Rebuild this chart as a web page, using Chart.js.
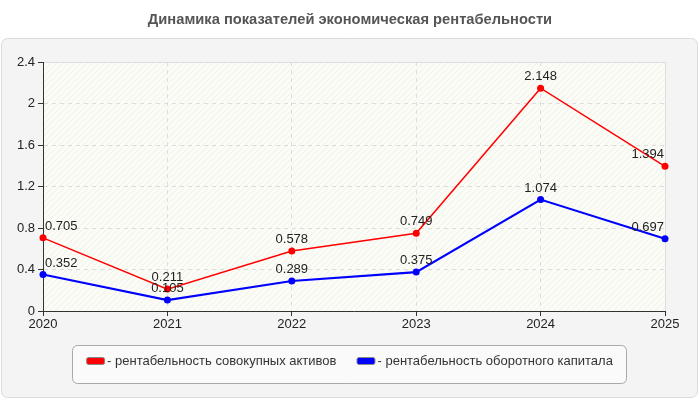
<!DOCTYPE html>
<html>
<head>
<meta charset="utf-8">
<script src="https://cdn.jsdelivr.net/npm/chart.js@4.4.1/dist/chart.umd.min.js"></script>
<style>
  html, body { margin: 0; padding: 0; background: #fff; }
  #wrap { width: 700px; height: 400px; }
</style>
</head>
<body>
<div id="wrap"><canvas id="chart" width="700" height="400"></canvas></div>
<script>
// Данные графика
const years       = ['2020', '2021', '2022', '2023', '2024', '2025'];
const assetsRoa   = [0.705, 0.211, 0.578, 0.749, 2.148, 1.394];
const workingCap  = [0.352, 0.105, 0.289, 0.375, 1.074, 0.697];
const seriesNames = ['- рентабельность совокупных активов', '- рентабельность оборотного капитала'];
const chartTitle  = 'Динамика показателей экономическая рентабельности';

const FONT = '"Liberation Sans", Arial, sans-serif';

// Штриховка фона области построения
function makeHatch(ctx) {
  const c = document.createElement('canvas');
  c.width = 6; c.height = 6;
  const p = c.getContext('2d');
  p.fillStyle = '#fcfcf6';
  p.fillRect(0, 0, 6, 6);
  p.strokeStyle = 'rgba(0,0,0,0.045)';
  p.lineWidth = 1;
  p.beginPath();
  p.moveTo(0, 6); p.lineTo(6, 0);
  p.moveTo(-3, 3); p.lineTo(3, -3);
  p.moveTo(3, 9); p.lineTo(9, 3);
  p.stroke();
  return ctx.createPattern(c, 'repeat');
}

function roundRect(ctx, x, y, w, h, r) {
  ctx.beginPath();
  ctx.moveTo(x + r, y);
  ctx.arcTo(x + w, y, x + w, y + h, r);
  ctx.arcTo(x + w, y + h, x, y + h, r);
  ctx.arcTo(x, y + h, x, y, r);
  ctx.arcTo(x, y, x + w, y, r);
  ctx.closePath();
}

// Фон страницы, панель и заголовок
const backdrop = {
  id: 'backdrop',
  beforeDraw(chart) {
    const { ctx, chartArea: a } = chart;
    ctx.save();
    ctx.fillStyle = '#fff';
    ctx.fillRect(0, 0, chart.width, chart.height);
    roundRect(ctx, 1.5, 38.5, 696, 359, 6);
    ctx.fillStyle = '#f4f4f4';
    ctx.fill();
    ctx.strokeStyle = '#dcdcdc';
    ctx.lineWidth = 1;
    ctx.stroke();

    ctx.fillStyle = '#555';
    ctx.font = 'bold 14.7px ' + FONT;
    ctx.textAlign = 'center';
    ctx.textBaseline = 'middle';
    ctx.fillText(chartTitle, 350, 20);

    ctx.fillStyle = makeHatch(ctx);
    ctx.fillRect(a.left, a.top, a.right - a.left, a.bottom - a.top);
    ctx.strokeStyle = '#dedede';
    ctx.strokeRect(a.left + 0.5, a.top + 0.5, a.right - a.left, a.bottom - a.top);
    ctx.restore();
  },
};

// Подписи значений над точками (прижаты к краям области)
const valueLabels = {
  id: 'valueLabels',
  afterDatasetsDraw(chart) {
    const { ctx, chartArea: a } = chart;
    ctx.save();
    ctx.font = '13px ' + FONT;
    ctx.fillStyle = '#222';
    ctx.textAlign = 'center';
    ctx.textBaseline = 'bottom';
    chart.data.datasets.forEach((ds, i) => {
      chart.getDatasetMeta(i).data.forEach((pt, j) => {
        const txt = String(ds.data[j]);
        const w = ctx.measureText(txt).width;
        let x = pt.x;
        x = Math.max(a.left + 2 + w / 2, Math.min(a.right - 1 - w / 2, x));
        ctx.fillText(txt, x, pt.y - 5);
      });
    });
    ctx.restore();
  },
};

// Легенда в рамке снизу
const boxLegend = {
  id: 'boxLegend',
  afterDraw(chart) {
    const { ctx } = chart;
    ctx.save();
    ctx.font = '13px ' + FONT;
    roundRect(ctx, 72.5, 345.5, 554, 38, 5);
    ctx.fillStyle = '#fafafa';
    ctx.fill();
    ctx.strokeStyle = '#a8a8a8';
    ctx.lineWidth = 1;
    ctx.stroke();

    const mark = 18, gap = 3, between = 20;
    const widths = chart.data.datasets.map((ds) => ctx.measureText(ds.label).width);
    const total = widths.reduce((s, w) => s + mark + gap + w, 0) + between;
    let x = 349.5 - total / 2;
    const y = 361;
    chart.data.datasets.forEach((ds, i) => {
      roundRect(ctx, x + 0.5, y - 3.5, mark, 7, 2);
      ctx.fillStyle = ds.borderColor;
      ctx.fill();
      ctx.strokeStyle = '#888';
      ctx.stroke();
      ctx.fillStyle = '#333';
      ctx.textAlign = 'left';
      ctx.textBaseline = 'middle';
      ctx.fillText(ds.label, x + mark + gap, y);
      x += mark + gap + widths[i] + between;
    });
    ctx.restore();
  },
};

new Chart(document.getElementById('chart'), {
  type: 'line',
  data: {
    labels: years,
    datasets: [
      {
        label:                seriesNames[0],
        data:                 assetsRoa,
        borderColor:          '#ff0000',
        backgroundColor:      '#ff0000',
        pointBackgroundColor: '#ff0000',
        borderWidth:          1.5,
        pointRadius:          3.5,
        pointBorderWidth:     0,
        tension:              0,
      },
      {
        label:                seriesNames[1],
        data:                 workingCap,
        borderColor:          '#0000ff',
        backgroundColor:      '#0000ff',
        pointBackgroundColor: '#0000ff',
        borderWidth:          2.2,
        pointRadius:          3.5,
        pointBorderWidth:     0,
        tension:              0,
      },
    ],
  },
  options: {
    responsive:          false,
    animation:           false,
    devicePixelRatio:    1,
    layout: { padding: { top: 62, right: 35, bottom: 59, left: 0 } },
    plugins: {
      legend:  { display: false },
      title:   { display: false },
      tooltip: { enabled: false },
    },
    scales: {
      x: {
        offset: false,
        grid:   { color: '#dddddd', tickColor: '#333', tickLength: 5, tickBorderDash: [] },
        border: { color: '#333', dash: [4, 4] },
        ticks:  { color: '#222', font: { family: FONT, size: 13 }, padding: 1, maxRotation: 0 },
        afterFit: (s) => { s.height = 30; },
      },
      y: {
        min: 0,
        max: 2.4,
        grid:   { color: '#dddddd', tickColor: '#333', tickLength: 5, tickBorderDash: [] },
        border: { color: '#333', dash: [4, 4] },
        ticks:  {
          stepSize: 0.4,
          color:    '#222',
          padding:  3,
          font:     { family: FONT, size: 13 },
          callback: (v) => String(Math.round(v * 10) / 10),
        },
        afterFit: (s) => { s.width = 43; },
      },
    },
  },
  plugins: [backdrop, valueLabels, boxLegend],
});
</script>
</body>
</html>
